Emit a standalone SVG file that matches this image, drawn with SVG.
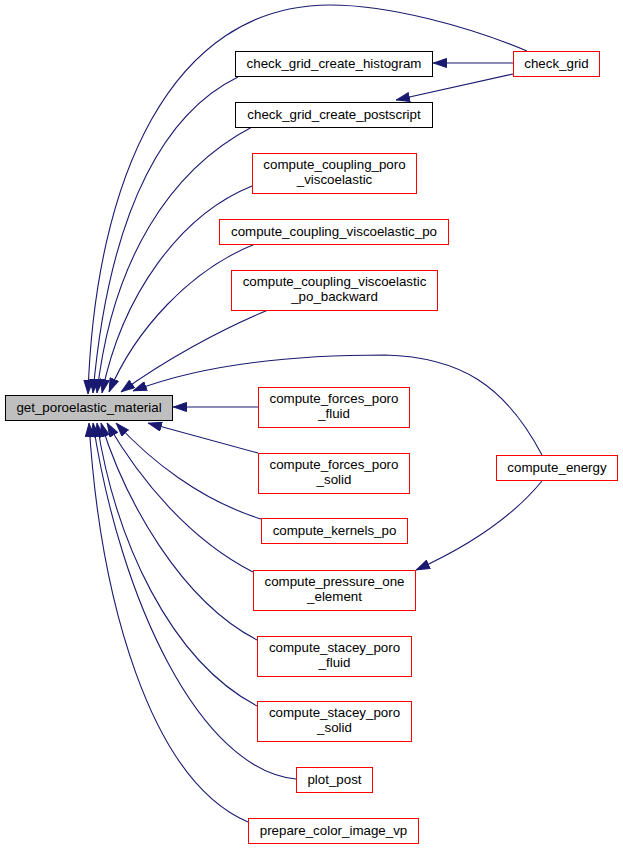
<svg xmlns="http://www.w3.org/2000/svg" width="623" height="849" viewBox="0 0 623 849">
<style>
.n rect{fill:#fff;stroke:#ff0000;stroke-width:1}
.n.b rect{stroke:#000}
.n.m rect{fill:#bfbfbf;stroke:#000}
.n text{font-family:"Liberation Sans",Arial,Helvetica,sans-serif;font-size:13.33px;fill:#000;text-anchor:middle}
.e path{fill:none;stroke:#191970;stroke-width:1.1;marker-end:url(#ah)}
</style>
<defs>
<marker id="ah" markerUnits="userSpaceOnUse" markerWidth="14" markerHeight="10" viewBox="0 0 14 10" refX="14" refY="5" orient="auto">
<path d="M0.5,0.5 L13.5,5 L0.5,9.5 z" fill="#191970" stroke="#191970" stroke-width="1"/>
</marker>
</defs>
<rect width="623" height="849" fill="#fff"/>
<g id="edges" class="e">
<path d="M527,51 C470,27 390,5 330,5 C170,5 95,180 88,394"/>
<path d="M238,77 C170,110 110,200 93,393"/>
<path d="M252,127 C170,170 112,260 97,393"/>
<path d="M252,186 C180,215 122,295 102,393"/>
<path d="M255,244 C190,270 135,330 109,392"/>
<path d="M268,310 C220,330 165,360 121,392"/>
<path d="M542,455 C505,385 460,357 385,355 C285,355 200,365 133,391"/>
<path d="M258,407 L173,407"/>
<path d="M258,453 L148,423"/>
<path d="M261,519 C200,500 150,460 116,423"/>
<path d="M253,572 C190,540 140,480 107,423"/>
<path d="M257,640 C180,600 125,500 101,423"/>
<path d="M257,706 C170,660 115,540 97,423"/>
<path d="M296,779 C200,770 120,600 93,423"/>
<path d="M248,822 C150,780 100,600 89,423"/>
<path d="M513,63 L433,63"/>
<path d="M513,74 L396,100"/>
<path d="M542,481 C510,520 460,550 416,570"/>
</g>
<g id="get_poroelastic_material" class="n m"><rect x="5.5" y="395.5" width="167" height="25"/><text x="89" y="412">get_poroelastic_material</text></g>
<g id="check_grid_create_histogram" class="n b"><rect x="235.5" y="51.5" width="197" height="25"/><text x="334" y="68">check_grid_create_histogram</text></g>
<g id="check_grid_create_postscript" class="n b"><rect x="235.5" y="102.5" width="197" height="25"/><text x="334" y="119">check_grid_create_postscript</text></g>
<g id="check_grid" class="n"><rect x="513.5" y="51.5" width="86" height="25"/><text x="556.5" y="68">check_grid</text></g>
<g id="compute_coupling_poro_viscoelastic" class="n"><rect x="252.5" y="153.5" width="164" height="40"/><text x="334.5" y="169">compute_coupling_poro</text><text x="334.5" y="184">_viscoelastic</text></g>
<g id="compute_coupling_viscoelastic_po" class="n"><rect x="219.5" y="219.5" width="229" height="25"/><text x="334" y="236">compute_coupling_viscoelastic_po</text></g>
<g id="compute_coupling_viscoelastic_po_backward" class="n"><rect x="231.5" y="270.5" width="206" height="40"/><text x="334.5" y="286">compute_coupling_viscoelastic</text><text x="334.5" y="301">_po_backward</text></g>
<g id="compute_forces_poro_fluid" class="n"><rect x="258.5" y="387.5" width="151" height="40"/><text x="334" y="403">compute_forces_poro</text><text x="334" y="418">_fluid</text></g>
<g id="compute_forces_poro_solid" class="n"><rect x="258.5" y="453.5" width="151" height="40"/><text x="334" y="469">compute_forces_poro</text><text x="334" y="484">_solid</text></g>
<g id="compute_kernels_po" class="n"><rect x="261.5" y="518.5" width="146" height="25"/><text x="334.5" y="535">compute_kernels_po</text></g>
<g id="compute_energy" class="n"><rect x="496.5" y="455.5" width="121" height="25"/><text x="557" y="472">compute_energy</text></g>
<g id="compute_pressure_one_element" class="n"><rect x="253.5" y="570.5" width="162" height="40"/><text x="334.5" y="586">compute_pressure_one</text><text x="334.5" y="601">_element</text></g>
<g id="compute_stacey_poro_fluid" class="n"><rect x="257.5" y="636.5" width="154" height="40"/><text x="334.5" y="652">compute_stacey_poro</text><text x="334.5" y="667">_fluid</text></g>
<g id="compute_stacey_poro_solid" class="n"><rect x="257.5" y="701.5" width="154" height="40"/><text x="334.5" y="717">compute_stacey_poro</text><text x="334.5" y="732">_solid</text></g>
<g id="plot_post" class="n"><rect x="296.5" y="767.5" width="76" height="25"/><text x="334.5" y="784">plot_post</text></g>
<g id="prepare_color_image_vp" class="n"><rect x="248.5" y="818.5" width="170" height="25"/><text x="333.5" y="835">prepare_color_image_vp</text></g>
</svg>
